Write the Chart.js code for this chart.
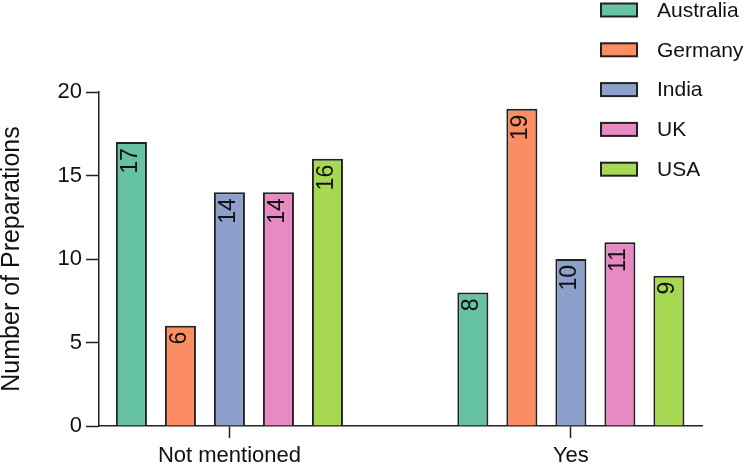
<!DOCTYPE html>
<html>
<head>
<meta charset="utf-8">
<script src="https://cdn.jsdelivr.net/npm/chart.js@4"></script>
<style>
  html, body { margin: 0; padding: 0; background: #fff; }
  #wrap { width: 751px; height: 467px; }
</style>
</head>
<body>
<div id="wrap"><canvas id="chart" width="751" height="467"></canvas></div>
<script>
// категории по оси X
const categories = ['Not mentioned', 'Yes'];
// страны (серии)
const countries = ['Australia', 'Germany', 'India', 'UK', 'USA'];
const australia = [17, 8];
const germany = [6, 19];
const india = [14, 10];
const uk = [14, 11];
const usa = [16, 9];
const yTicks = [0, 5, 10, 15, 20];

const colors = ['#66c2a5', '#fc8d62', '#8da0cb', '#e78ac3', '#a6d854'];
const edge = '#222';
const fontFamily = '"Liberation Sans", Arial, Helvetica, sans-serif';

const seriesValues = [australia, germany, india, uk, usa];

const datasets = countries.map((name, i) => ({
  label: name,
  data: seriesValues[i].map((v, k) => ({ x: k, y: v })),
  backgroundColor: colors[i],
  borderColor: edge,
  borderWidth: 2,
  categoryPercentage: 0.7177,
  barPercentage: 0.633
}));

// подписи значений внутри столбцов (повернуты)
const valueLabels = {
  id: 'valueLabels',
  afterDatasetsDraw(chart) {
    const ctx = chart.ctx;
    ctx.save();
    ctx.fillStyle = '#111';
    ctx.font = '23px ' + fontFamily;
    ctx.textAlign = 'right';
    ctx.textBaseline = 'middle';
    chart.data.datasets.forEach((ds, i) => {
      const meta = chart.getDatasetMeta(i);
      meta.data.forEach((bar, k) => {
        ctx.save();
        ctx.translate(bar.x - 1, bar.y + 6);
        ctx.rotate(-Math.PI / 2);
        ctx.fillText(String(ds.data[k].y), 0, 0);
        ctx.restore();
      });
    });
    ctx.restore();
  }
};

// легенда справа сверху
const sideLegend = {
  id: 'sideLegend',
  afterDraw(chart) {
    const ctx = chart.ctx;
    const left = chart.chartArea.right - 101;
    ctx.save();
    ctx.font = '21px ' + fontFamily;
    ctx.textBaseline = 'middle';
    ctx.textAlign = 'left';
    chart.data.datasets.forEach((ds, i) => {
      const cy = 10 + i * 39.8;
      ctx.fillStyle = ds.backgroundColor;
      ctx.fillRect(left, cy - 6.5, 36, 13);
      ctx.strokeStyle = edge;
      ctx.lineWidth = 2;
      ctx.strokeRect(left, cy - 6.5, 36, 13);
      ctx.fillStyle = '#111';
      ctx.fillText(ds.label, left + 56, cy + 1);
    });
    ctx.restore();
  }
};

new Chart(document.getElementById('chart'), {
  type: 'bar',
  data: { datasets: datasets },
  plugins: [valueLabels, sideLegend],
  options: {
    responsive: false,
    animation: false,
    layout: { padding: { top: 92, right: 49, left: 0, bottom: 0 } },
    plugins: {
      legend: { display: false },
      tooltip: { enabled: false }
    },
    scales: {
      x: {
        type: 'linear',
        offset: false,
        min: -0.382,
        max: 1.384,
        afterBuildTicks: (scale) => {
          scale.ticks = categories.map((c, k) => ({ value: k }));
        },
        afterFit: (scale) => { scale.height = 41; },
        ticks: {
          color: '#111',
          font: { family: fontFamily, size: 22 },
          padding: 5,
          maxRotation: 0,
          autoSkip: false,
          callback: (v) => categories[Math.round(v)]
        },
        grid: {
          offset: false,
          drawOnChartArea: false,
          drawTicks: true,
          tickLength: 12,
          tickColor: edge,
          tickWidth: 1.5
        },
        border: { display: true, color: edge, width: 1.5 }
      },
      y: {
        min: 0,
        max: 20,
        afterBuildTicks: (scale) => {
          scale.ticks = yTicks.map(v => ({ value: v }));
        },
        afterFit: (scale) => { scale.width = 99; },
        ticks: {
          color: '#111',
          font: { family: fontFamily, size: 22 },
          padding: 4
        },
        grid: {
          drawOnChartArea: false,
          drawTicks: true,
          tickLength: 13,
          tickColor: edge,
          tickWidth: 1.5
        },
        border: { display: true, color: edge, width: 1.5 },
        title: {
          display: true,
          text: 'Number of Preparations',
          color: '#111',
          font: { family: fontFamily, size: 25, lineHeight: 1 },
          padding: 0
        }
      }
    }
  }
});
</script>
</body>
</html>
